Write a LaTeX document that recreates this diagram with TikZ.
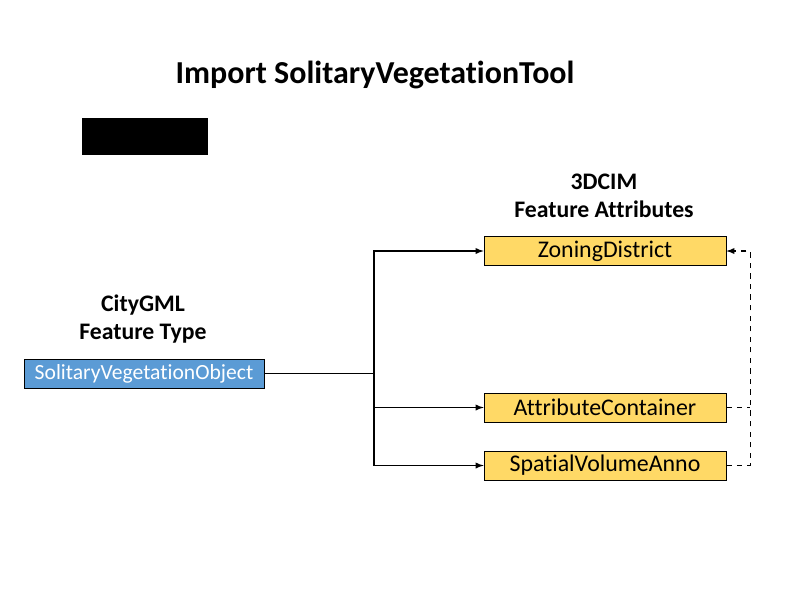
\documentclass[tikz,border=0pt]{standalone}
\usepackage{fontspec}
\setmainfont{Carlito}[RawFeature=-liga]
\usetikzlibrary{positioning}

\definecolor{featblue}{HTML}{5B9BD5}
\definecolor{attryellow}{HTML}{FFD966}

\begin{document}
\begin{tikzpicture}[x=0.02cm, y=-0.02cm, semithick]

    % Define styles
    \tikzstyle{feat} = [draw, thin, rectangle, fill=featblue, text=white, minimum width=4.8cm, minimum height=0.58cm, inner sep=0pt, font=\fontsize{12.3}{14}\selectfont]
    \tikzstyle{attr} = [draw, thin, rectangle, fill=attryellow, minimum width=4.84cm, minimum height=0.58cm, inner sep=0pt, font=\fontsize{13.6}{15}\selectfont]
    \tikzstyle{head} = [align=center, font=\bfseries\fontsize{13.5}{16}\selectfont]
    \tikzstyle{link} = [-latex]

    \useasboundingbox (0,0) rectangle (800,600);

    % TITLE
    \node (title) at (375,75) [font=\bfseries\fontsize{18.2}{22}\selectfont] {Import SolitaryVegetationTool};
    \fill (82,118) rectangle (208,155);

    % HEADINGS
    \node (cim_head) at (604,196) [head] {3DCIM\\Feature Attributes};
    \node (gml_head) at (143,319) [head] {CityGML\\Feature Type};

    % BOXES
    \node (veg_obj) at (144,373.5) [feat] {SolitaryVegetationObject};
    \node (zoning) at (605,251) [attr] {ZoningDistrict};
    \node (attr_cont) at (605,407.5) [attr] {AttributeContainer};
    \node (spatial) at (605,465.5) [attr] {SpatialVolumeAnno};

    % CONNECTIONS
    \coordinate (split) at (374,373.5);
    \draw (veg_obj) -- (split);
    \draw[link] (split) |- (zoning);
    \draw[link] (split) |- (spatial);
    \draw[link] (split |- attr_cont) -- (attr_cont);

    % Dashed back links
    \draw[dashed] (attr_cont.east) -- ++(24,0);
    \draw[link, dashed] (spatial.east) -- ++(24,0) |- (zoning.east);

\end{tikzpicture}
\end{document}
